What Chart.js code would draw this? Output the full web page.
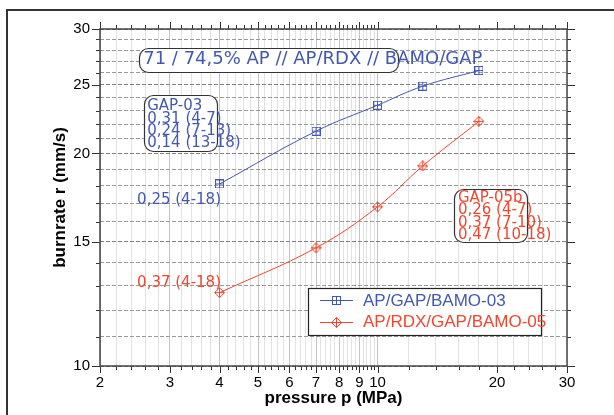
<!DOCTYPE html>
<html lang="en">
<head>
<meta charset="utf-8">
<script src="https://cdn.jsdelivr.net/npm/chart.js@4.4.0/dist/chart.umd.min.js"></script>
<style>
  html, body { margin: 0; padding: 0; background: #fff; }
</style>
</head>
<body>
<canvas id="myChart" width="614" height="415"></canvas>
<script>

// measured pressures (MPa) and burn rates (mm/s)
const pressure = [4, 7, 10, 13, 18];
const rate03 = [18.1, 21.5, 23.4, 24.9, 26.2];
const rate05 = [12.7, 14.7, 16.8, 19.2, 22.2];
const seriesNames = ['AP/GAP/BAMO-03', 'AP/RDX/GAP/BAMO-05'];

// axis ticks that carry a label
const xLabels = [2, 3, 4, 5, 6, 7, 8, 9, 10, 20, 30];
const yLabels = [10, 15, 20, 25, 30];

const BLUE = '#4358b3';
const RED = '#f2462e';

// minor ticks: every 0.2 below 10, every 2 above, every 1 on y
const xTicks = [];
for (let i = 20; i <= 100; i += 2) xTicks.push(i / 10);
for (let v = 12; v <= 30; v += 2) xTicks.push(v);
const yTicks = [];
for (let v = 10; v <= 30; v++) yTicks.push(v);

// text boxes, placed in data units (pressure, burnrate)
const notes = [
    { lines: ['71 / 74,5% AP // AP/RDX // BAMO/GAP'], color: BLUE, size: 18,
      x: 2.57, y: 27.2, box: [2.51, 28.17, 11.26, 26.04] },
    { lines: ['GAP-03', '0,31 (4-7)', '0,24 (7-13)', '0,14 (13-18)'], color: BLUE, size: 15,
      x: 2.63, y: 23.3, box: [2.58, 24.19, 3.94, 20.16] },
    { lines: ['0,25 (4-18)'], color: BLUE, size: 15, x: 2.48, y: 17.15 },
    { lines: ['0,37 (4-18)'], color: RED, size: 15, x: 2.48, y: 13.12 },
    { lines: ['GAP-05b', '0,26 (4-7)', '0,37 (7-10)', '0,47 (10-18)'], color: RED, size: 15,
      x: 15.94, y: 17.28, box: [15.58, 17.80, 23.79, 14.99] }
];

function squareMark(color) {
    const c = document.createElement('canvas');
    c.width = 9; c.height = 9;
    const g = c.getContext('2d');
    g.strokeStyle = color; g.lineWidth = 1;
    g.strokeRect(0.5, 0.5, 8, 8);
    g.beginPath();
    g.moveTo(4.5, 0.5); g.lineTo(4.5, 8.5);
    g.moveTo(0.5, 4.5); g.lineTo(8.5, 4.5);
    g.stroke();
    return c;
}

function diamondMark(color) {
    const c = document.createElement('canvas');
    c.width = 11; c.height = 11;
    const g = c.getContext('2d');
    g.strokeStyle = color; g.lineWidth = 1;
    g.beginPath();
    g.moveTo(5.5, 0.5); g.lineTo(10.5, 5.5); g.lineTo(5.5, 10.5); g.lineTo(0.5, 5.5); g.closePath();
    g.moveTo(5.5, 0.5); g.lineTo(5.5, 10.5);
    g.moveTo(0.5, 5.5); g.lineTo(10.5, 5.5);
    g.stroke();
    return c;
}

function roundRect(ctx, x1, y1, x2, y2, r) {
    ctx.beginPath();
    ctx.moveTo(x1 + r, y1);
    ctx.arcTo(x2, y1, x2, y2, r);
    ctx.arcTo(x2, y2, x1, y2, r);
    ctx.arcTo(x1, y2, x1, y1, r);
    ctx.arcTo(x1, y1, x2, y1, r);
    ctx.closePath();
}

const decor = {
    id: 'decor',
    afterDraw(chart) {
        const ctx = chart.ctx;
        const xs = chart.scales.x, ys = chart.scales.y, a = chart.chartArea;
        ctx.save();

        // text boxes
        notes.forEach(n => {
            if (n.box) {
                const bx1 = xs.getPixelForValue(n.box[0]), by1 = ys.getPixelForValue(n.box[1]);
                const bx2 = xs.getPixelForValue(n.box[2]), by2 = ys.getPixelForValue(n.box[3]);
                roundRect(ctx, Math.round(bx1) + 0.5, Math.round(by1) + 0.5, Math.round(bx2) + 0.5, Math.round(by2) + 0.5, 9);
                ctx.fillStyle = '#fff';
                ctx.fill();
                ctx.strokeStyle = '#333';
                ctx.lineWidth = 1.2;
                ctx.stroke();
            }
            ctx.fillStyle = n.color;
            ctx.font = n.size + 'px "DejaVu Sans"';
            ctx.textAlign = 'left';
            ctx.textBaseline = 'middle';
            const tx = xs.getPixelForValue(n.x), ty = ys.getPixelForValue(n.y);
            n.lines.forEach((s, i) => ctx.fillText(s, tx, ty + i * 12.2));
        });

        // legend
        const lx = a.left + 208, ly = a.top + 259;
        ctx.fillStyle = '#fff';
        ctx.fillRect(lx, ly, 233, 47);
        ctx.strokeStyle = '#222';
        ctx.lineWidth = 1.2;
        ctx.strokeRect(lx + 0.5, ly + 0.5, 233, 47);
        chart.data.datasets.forEach((ds, i) => {
            const cy = ly + 12 + i * 21.7;
            ctx.strokeStyle = ds.borderColor;
            ctx.lineWidth = 1;
            ctx.beginPath();
            ctx.moveTo(lx + 12, Math.round(cy) + 0.5);
            ctx.lineTo(lx + 45, Math.round(cy) + 0.5);
            ctx.stroke();
            const img = ds.pointStyle;
            ctx.drawImage(img, Math.round(lx + 28.5 - img.width / 2), Math.round(cy + 0.5 - img.height / 2));
            ctx.fillStyle = ds.borderColor;
            ctx.font = '17px "Liberation Sans"';
            ctx.textBaseline = 'middle';
            ctx.fillText(ds.label, lx + 55, cy + 1);
        });

        // tick marks on all four sides
        ctx.strokeStyle = '#333';
        ctx.lineWidth = 1;
        ctx.beginPath();
        xs.ticks.forEach(t => {
            const px = Math.round(xs.getPixelForValue(t.value)) + 0.5;
            const len = Number.isInteger(t.value) && t.value <= 10 || xLabels.includes(t.value) ? 7 : 4;
            ctx.moveTo(px, a.bottom); ctx.lineTo(px, a.bottom + len);
            ctx.moveTo(px, a.top); ctx.lineTo(px, a.top - len);
        });
        ys.ticks.forEach(t => {
            const py = Math.round(ys.getPixelForValue(t.value)) + 0.5;
            const len = yLabels.includes(t.value) ? 8 : 4;
            ctx.moveTo(a.left, py); ctx.lineTo(a.left - len, py);
            ctx.moveTo(a.right, py); ctx.lineTo(a.right + len, py);
        });
        ctx.stroke();

        // plot frame
        ctx.strokeStyle = '#444';
        ctx.lineWidth = 1.5;
        ctx.strokeRect(Math.round(a.left), Math.round(a.top), Math.round(a.right - a.left), Math.round(a.bottom - a.top));

        // outer frame
        ctx.strokeStyle = '#333';
        ctx.lineWidth = 2;
        ctx.beginPath();
        ctx.moveTo(7, 420); ctx.lineTo(7, 10); ctx.lineTo(620, 10);
        ctx.stroke();
        ctx.restore();
    }
};

const ctx = document.getElementById('myChart').getContext('2d');

const myChart = new Chart(ctx, {
    type: 'line',
    data: {
        datasets: [
            {
                label: seriesNames[0],
                data: pressure.map((p, i) => ({ x: p, y: rate03[i] })),
                borderColor: BLUE,
                borderWidth: 1,
                pointStyle: squareMark(BLUE),
                tension: 0.4,
                fill: false
            },
            {
                label: seriesNames[1],
                data: pressure.map((p, i) => ({ x: p, y: rate05[i] })),
                borderColor: RED,
                borderWidth: 1,
                pointStyle: diamondMark(RED),
                tension: 0.4,
                fill: false
            }
        ]
    },
    options: {
        responsive: false,
        animation: false,
        devicePixelRatio: 1,
        layout: { padding: { left: 0, top: 29, right: 47, bottom: 0 } },
        plugins: { legend: { display: false }, tooltip: { enabled: false } },
        scales: {
            x: {
                type: 'logarithmic',
                min: 2,
                max: 30,
                afterBuildTicks: s => { s.ticks = xTicks.map(v => ({ value: v })); },
                afterFit: s => { s.height = 49; },
                ticks: {
                    autoSkip: false,
                    maxRotation: 0,
                    minRotation: 0,
                    padding: 8,
                    color: '#000',
                    font: { family: 'Liberation Sans', size: 15 },
                    callback: v => xLabels.includes(v) ? String(v) : ''
                },
                grid: {
                    drawTicks: false,
                    color: c => Number.isInteger(c.tick.value) && c.tick.value <= 10 ? '#c4c4c4' : '#e2e2e2'
                },
                border: { display: false },
                title: {
                    display: true,
                    text: 'pressure p (MPa)',
                    color: '#000',
                    font: { family: 'Liberation Sans', size: 17, weight: 'bold' },
                    padding: { top: 0, bottom: 6 }
                }
            },
            y: {
                type: 'logarithmic',
                min: 10,
                max: 30,
                afterBuildTicks: s => { s.ticks = yTicks.map(v => ({ value: v })); },
                afterFit: s => { s.width = 100; },
                ticks: {
                    autoSkip: false,
                    padding: 10,
                    color: '#000',
                    font: { family: 'Liberation Sans', size: 15 },
                    callback: v => yLabels.includes(v) ? String(v) : ''
                },
                grid: {
                    drawTicks: false,
                    color: c => yLabels.includes(c.tick.value) ? '#808080' : '#9a9a9a'
                },
                border: { display: false, dash: [4, 2] },
                title: {
                    display: true,
                    text: 'burnrate r (mm/s)',
                    color: '#000',
                    font: { family: 'Liberation Sans', size: 17, weight: 'bold' },
                    padding: { top: 50, bottom: 0 }
                }
            }
        }
    },
    plugins: [decor]
});

</script>
</body>
</html>
